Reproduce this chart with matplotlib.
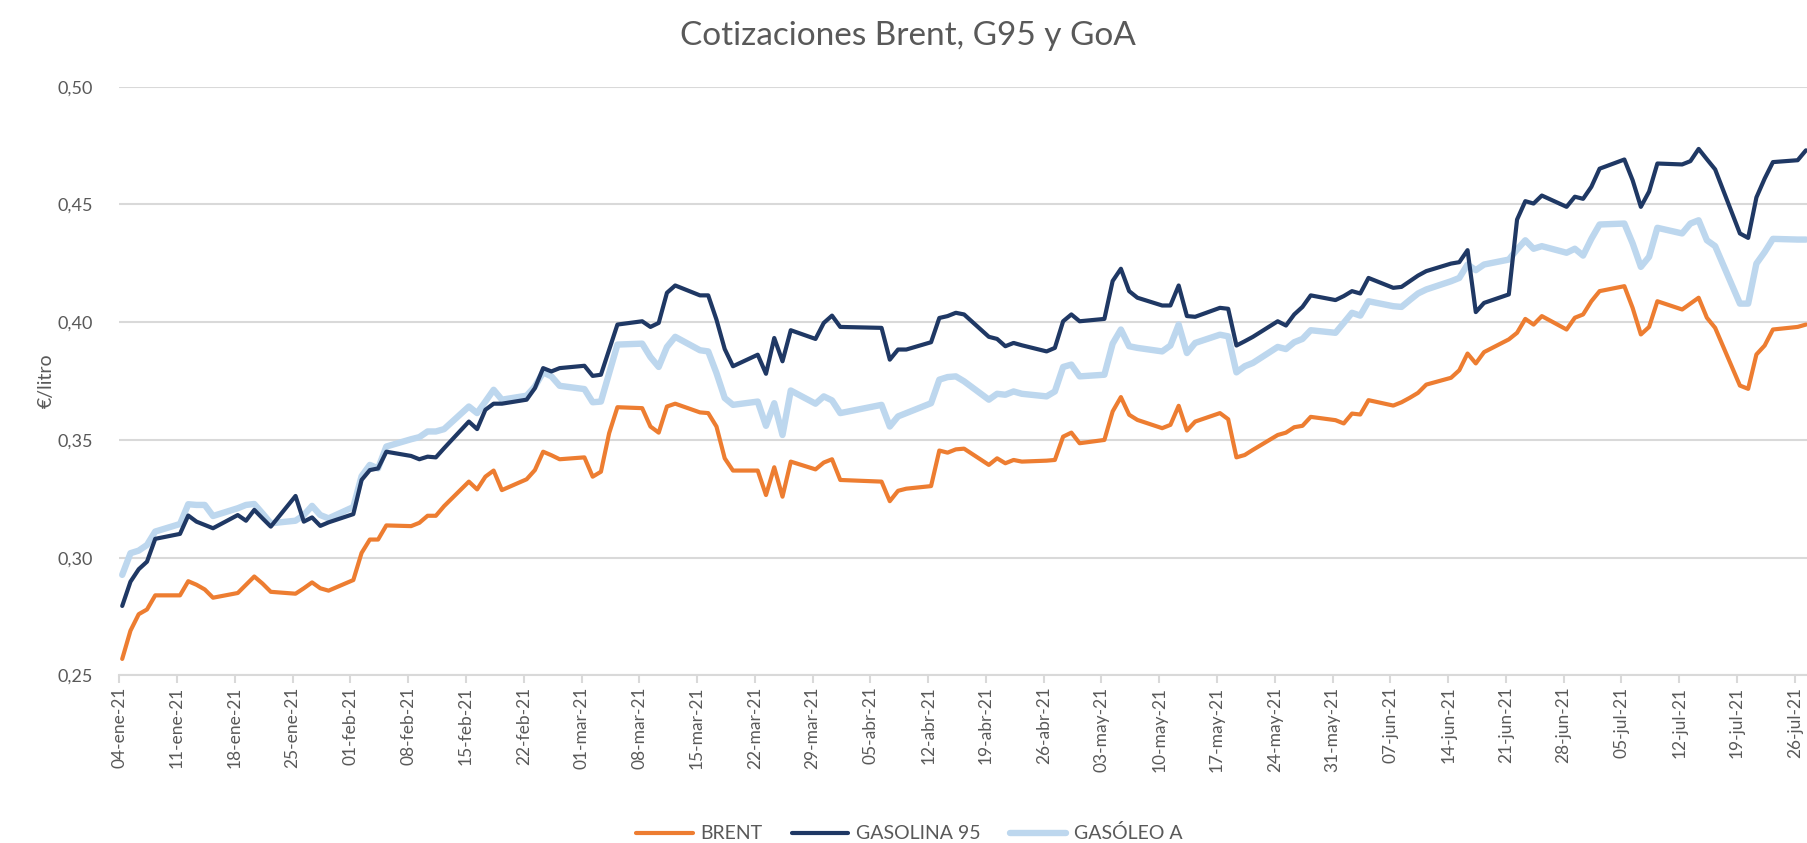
import numpy as np
import pandas as pd
import matplotlib
matplotlib.use("Agg")
import matplotlib.pyplot as plt
import matplotlib.dates as mdates

plt.rcParams['font.family'] = ['Lato', 'DejaVu Sans']

# Business days shown (Good Friday and Easter Monday missing)
fechas = pd.bdate_range('2021-01-04', '2021-07-27').drop(pd.to_datetime(['2021-04-02', '2021-04-05']))

brent = [
    0.257, 0.269, 0.276, 0.278, 0.284, 0.284, 0.290, 0.2885, 0.2865, 0.283,
    0.285, 0.2885, 0.292, 0.289, 0.2855, 0.2847, 0.287, 0.2895, 0.287, 0.286,
    0.2905, 0.302, 0.3077, 0.3077, 0.3137, 0.3134, 0.3148, 0.3178, 0.3178, 0.3219,
    0.3323, 0.329, 0.3344, 0.337, 0.3287, 0.3333, 0.3372, 0.345, 0.3435, 0.3418,
    0.3426, 0.3344, 0.3365, 0.3529, 0.3639, 0.3635, 0.3557, 0.3531, 0.3642, 0.3654,
    0.3617, 0.3614, 0.3557, 0.3422, 0.337, 0.337, 0.3266, 0.3384, 0.3259, 0.3408,
    0.3375, 0.3404, 0.3418, 0.333,
    0.3323, 0.324, 0.3284, 0.3293, 0.3304, 0.3455, 0.3446, 0.346, 0.3463,
    0.3394, 0.3422, 0.3401, 0.3415, 0.3408, 0.3412, 0.3415, 0.3514, 0.3531, 0.3486,
    0.350, 0.3621, 0.3682, 0.3607, 0.3585, 0.355, 0.3564, 0.3645, 0.354, 0.3578,
    0.3614, 0.3588, 0.3426, 0.3436, 0.3458, 0.3521, 0.3531, 0.3554, 0.356, 0.3598,
    0.3584, 0.357, 0.3612, 0.3608, 0.3669, 0.3646, 0.366, 0.3679, 0.370, 0.3735,
    0.3764, 0.3796, 0.3867, 0.3825, 0.3873, 0.3927, 0.3955, 0.4014, 0.399, 0.4026,
    0.3969, 0.4019, 0.4033, 0.4089, 0.4132, 0.4153, 0.4061, 0.3948, 0.398, 0.4089,
    0.4054, 0.4079, 0.4104, 0.4019, 0.3976, 0.3731, 0.3717, 0.3863, 0.3901, 0.3969,
    0.398, 0.399,
]

gasolina95 = [
    0.2795, 0.2898, 0.2951, 0.2983, 0.308, 0.3101, 0.3179, 0.3153, 0.3139, 0.3125,
    0.3181, 0.3157, 0.3203, 0.3167, 0.3132, 0.3262, 0.3153, 0.3171, 0.3135, 0.315,
    0.3185, 0.333, 0.3372, 0.3379, 0.345, 0.3432, 0.3418, 0.3429, 0.3426, 0.3465,
    0.3578, 0.3546, 0.3628, 0.3654, 0.3654, 0.3671, 0.372, 0.3805, 0.3791, 0.3805,
    0.3815, 0.3772, 0.3777, 0.3884, 0.399, 0.4004, 0.398, 0.3997, 0.4125, 0.4156,
    0.4114, 0.4114, 0.4011, 0.3886, 0.3813, 0.3862, 0.3781, 0.3933, 0.3834, 0.3966,
    0.3929, 0.3997, 0.4028, 0.398,
    0.3976, 0.3841, 0.3884, 0.3884, 0.3915, 0.4018, 0.4026, 0.404, 0.4033,
    0.3938, 0.3929, 0.3898, 0.3912, 0.3902, 0.3876, 0.3891, 0.4004, 0.4033, 0.4004,
    0.4014, 0.4175, 0.4227, 0.4132, 0.4104, 0.4071, 0.4071, 0.4156, 0.4026, 0.4023,
    0.4061, 0.4057, 0.3901, 0.3919, 0.3938, 0.4004, 0.3986, 0.4033, 0.4065, 0.4114,
    0.4094, 0.4111, 0.4132, 0.4122, 0.4188, 0.4146, 0.415, 0.4174, 0.4198, 0.4217,
    0.4249, 0.4255, 0.4306, 0.4043, 0.4082, 0.4118, 0.4436, 0.4514, 0.4504, 0.4538,
    0.449, 0.4533, 0.4524, 0.4575, 0.4652, 0.4691, 0.4603, 0.449, 0.4555, 0.4674,
    0.467, 0.4684, 0.4736, 0.4692, 0.4649, 0.4377, 0.4358, 0.453, 0.461, 0.468,
    0.4688, 0.473,
]

gasoleo_a = [
    0.2927, 0.3019, 0.303, 0.3054, 0.3111, 0.3143, 0.3227, 0.3224, 0.3224, 0.3177,
    0.321, 0.3224, 0.3228, 0.3188, 0.3146, 0.3157, 0.3181, 0.322, 0.3181, 0.3167,
    0.3215, 0.3346, 0.3394, 0.3379, 0.3472, 0.3503, 0.3512, 0.3536, 0.3536, 0.3546,
    0.3642, 0.3614, 0.3663, 0.3713, 0.3671, 0.3688, 0.3727, 0.3787, 0.377, 0.373,
    0.3716, 0.366, 0.3663, 0.3784, 0.3905, 0.3909, 0.3852, 0.381, 0.3895, 0.3938,
    0.3881, 0.3876, 0.3784, 0.3678, 0.3649, 0.3663, 0.356, 0.3656, 0.3521, 0.371,
    0.3654, 0.3685, 0.3668, 0.3614,
    0.3649, 0.3557, 0.360, 0.3614, 0.3656, 0.3756, 0.3767, 0.377, 0.3749,
    0.3671, 0.3696, 0.3692, 0.3706, 0.3696, 0.3685, 0.3706, 0.381, 0.382, 0.377,
    0.3777, 0.3909, 0.3969, 0.3898, 0.3891, 0.3876, 0.3901, 0.399, 0.3869, 0.3912,
    0.3947, 0.394, 0.3787, 0.3813, 0.3827, 0.3895, 0.3886, 0.3915, 0.3929, 0.3966,
    0.3955, 0.3997, 0.404, 0.4028, 0.4089, 0.4068, 0.4065, 0.4094, 0.4122, 0.4139,
    0.4174, 0.4188, 0.4245, 0.4221, 0.4245, 0.4266, 0.4309, 0.4348, 0.4312, 0.4323,
    0.4295, 0.4312, 0.4283, 0.4354, 0.4415, 0.4419, 0.4335, 0.4235, 0.4278, 0.4401,
    0.4377, 0.4419, 0.4433, 0.4348, 0.4323, 0.4079, 0.4079, 0.4249, 0.4298, 0.4354,
    0.4351, 0.4351,
]

meses = {1: 'ene', 2: 'feb', 3: 'mar', 4: 'abr', 5: 'may', 6: 'jun', 7: 'jul'}
ticks = pd.date_range('2021-01-04', '2021-07-26', freq='7D')
tick_labels = [f"{d.day:02d}-{meses[d.month]}-21" for d in ticks]

gris = '#595959'

fig = plt.figure(figsize=(18.08, 8.43), dpi=100)
ax = fig.add_axes([0.066, 0.1988, 0.934, 0.6983])

# Excel places each point a little inside its day slot
x = mdates.date2num(fechas) + 0.35

ax.plot(x, gasoleo_a, color='#BDD7EE', lw=4.6, label='GASÓLEO A', zorder=2,
        solid_joinstyle='round', solid_capstyle='round')
ax.plot(x, gasolina95, color='#1F3864', lw=3.0, label='GASOLINA 95', zorder=3,
        solid_joinstyle='round', solid_capstyle='round')
ax.plot(x, brent, color='#ED7D31', lw=3.0, label='BRENT', zorder=4,
        solid_joinstyle='round', solid_capstyle='round')

x0 = mdates.date2num(pd.Timestamp('2021-01-04'))
ax.set_xlim(x0, x0 + 204.6)
ax.set_ylim(0.25, 0.50)

ax.set_yticks(np.arange(0.25, 0.501, 0.05))
ax.set_yticklabels([f"{v:.2f}".replace('.', ',') for v in np.arange(0.25, 0.501, 0.05)])
ax.set_xticks(mdates.date2num(ticks))
ax.set_xticklabels(tick_labels, rotation=90, va='top', ha='center')

ax.grid(axis='y', color='#D9D9D9', lw=1.5, zorder=0)
ax.set_axisbelow(True)
for s in ['top', 'right', 'left']:
    ax.spines[s].set_visible(False)
ax.spines['bottom'].set_color('#D9D9D9')
ax.spines['bottom'].set_linewidth(1.5)
ax.tick_params(axis='y', length=0, pad=19, labelsize=13, labelcolor=gris)
ax.tick_params(axis='x', length=6, width=1.5, color='#D9D9D9', pad=2,
               labelsize=12.5, labelcolor=gris)

ax.set_ylabel('€/litro', fontsize=14, color=gris)
ax.yaxis.set_label_coords(-0.038, 0.5)
fig.suptitle('Cotizaciones Brent, G95 y GoA', x=0.502, y=0.975, fontsize=24, color=gris)

h, l = ax.get_legend_handles_labels()
order = [2, 1, 0]
fig.legend([h[i] for i in order], [l[i] for i in order], loc='lower center',
           bbox_to_anchor=(0.503, -0.02), ncol=3, frameon=False, fontsize=14,
           handlelength=2.9, columnspacing=1.5, handletextpad=0.4, labelcolor=gris)

fig.savefig('out.png', dpi=100)
